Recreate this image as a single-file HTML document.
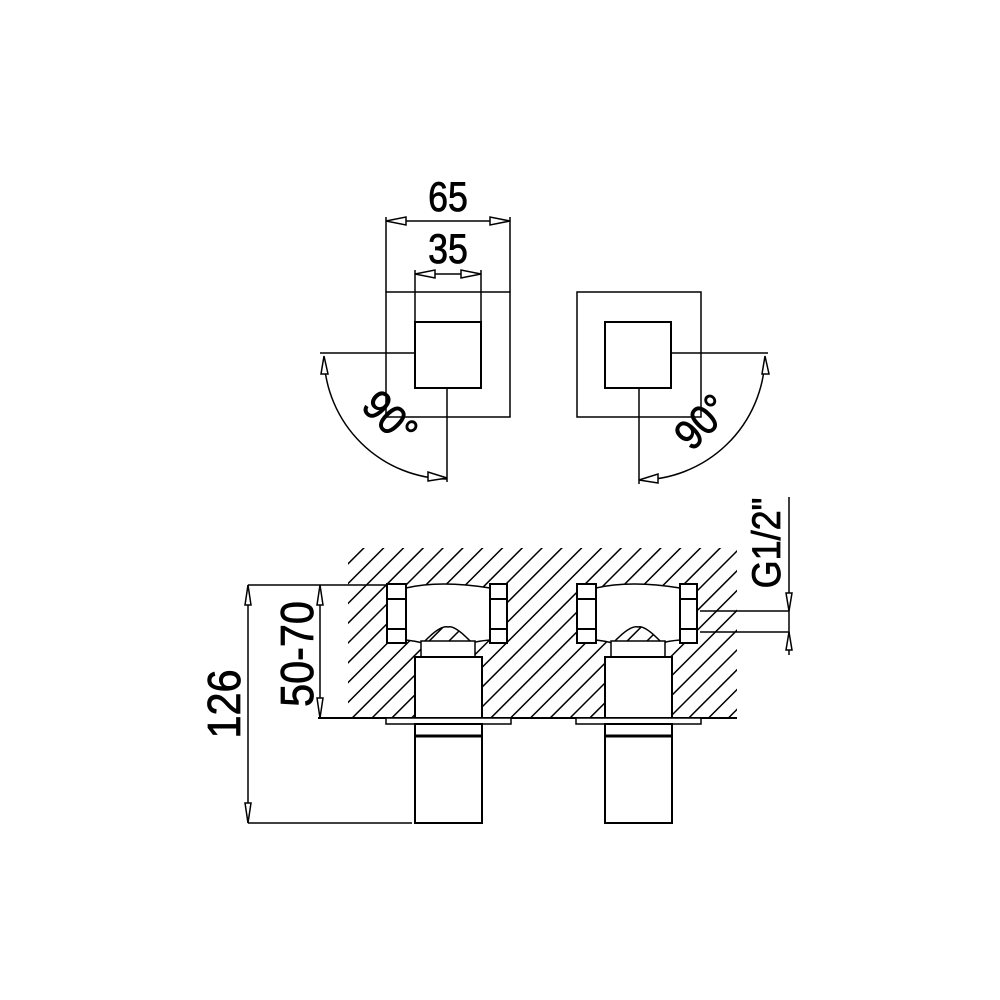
<!DOCTYPE html>
<html><head><style>body{margin:0;background:#fff}svg{display:block}text{font-family:"Liberation Sans Narrow","Liberation Sans",sans-serif;fill:#000;stroke:#000;stroke-width:0.8}</style></head><body>
<svg width="1000" height="1000" viewBox="0 0 1000 1000" xmlns="http://www.w3.org/2000/svg">
<defs>
<pattern id="hp" width="14" height="14" patternUnits="userSpaceOnUse" patternTransform="rotate(45)">
<line x1="0" y1="0" x2="0" y2="14" stroke="#000" stroke-width="3"/>
</pattern>
<g id="valve">
<path d="M406,588 Q440,580 490,588 L490,640 Q478,641 472,643 Q455,625 448,627 Q440,625 423,643 Q415,641 406,640 Z" fill="#fff" stroke="#000" stroke-width="1.5"/>
<rect x="421" y="641" width="54" height="17" fill="#fff" stroke="#000" stroke-width="1.5"/>
<rect x="387" y="584" width="19" height="59" fill="#fff" stroke="#000" stroke-width="2"/>
<line x1="387" y1="599" x2="406" y2="599" stroke="#000" stroke-width="2"/>
<line x1="387" y1="629" x2="406" y2="629" stroke="#000" stroke-width="2"/>
<rect x="490" y="584" width="17" height="59" fill="#fff" stroke="#000" stroke-width="2"/>
<line x1="490" y1="599" x2="507" y2="599" stroke="#000" stroke-width="2"/>
<line x1="490" y1="629" x2="507" y2="629" stroke="#000" stroke-width="2"/>
<rect x="415" y="657" width="67" height="61" fill="#fff" stroke="#000" stroke-width="2"/>
<rect x="386" y="718" width="125" height="6" fill="#fff" stroke="#000" stroke-width="1.5"/>
<rect x="415" y="724" width="67" height="99" fill="#fff" stroke="#000" stroke-width="2"/>
<line x1="415" y1="736" x2="482" y2="736" stroke="#000" stroke-width="3"/>
</g>
</defs>
<rect x="348" y="548" width="389" height="170" fill="url(#hp)"/>
<line x1="318" y1="718" x2="737" y2="718" stroke="#000" stroke-width="2"/>
<use href="#valve"/>
<use href="#valve" transform="translate(190,0)"/>
<g stroke="#000" stroke-width="1.5" fill="none">
<line x1="248" y1="585" x2="386" y2="585"/>
<line x1="248" y1="823" x2="412" y2="823"/>
<line x1="248" y1="585" x2="248" y2="823"/>
<path d="M248,585 l-3,20 h6 Z M248,823 l-3,-20 h6 Z" fill="#fff"/>
<line x1="320" y1="585" x2="320" y2="718"/>
<path d="M320,585 l-3,20 h6 Z M320,718 l-3,-20 h6 Z" fill="#fff"/>
<line x1="700" y1="611" x2="789" y2="611"/>
<line x1="700" y1="632" x2="789" y2="632"/>
<line x1="789" y1="497" x2="789" y2="655"/>
<path d="M789,611 l-3,-18 h6 Z M789,632 l-3,18 h6 Z" fill="#fff"/>
<rect x="386" y="292" width="124" height="125"/>
<rect x="415" y="322" width="66" height="66" stroke-width="2"/>
<line x1="415" y1="270" x2="415" y2="322"/>
<line x1="481" y1="270" x2="481" y2="322"/>
<line x1="386" y1="217" x2="386" y2="292"/>
<line x1="510" y1="217" x2="510" y2="292"/>
<line x1="386" y1="221" x2="510" y2="221"/>
<path d="M386,221 l20,-4 v8 Z M510,221 l-20,-4 v8 Z" fill="#fff"/>
<line x1="415" y1="274" x2="481" y2="274"/>
<path d="M415,274 l20,-4 v8 Z M481,274 l-20,-4 v8 Z" fill="#fff"/>
<line x1="320" y1="353" x2="415" y2="353"/>
<line x1="447" y1="388" x2="447" y2="482"/>
<path d="M324,358 A125,125 0 0 0 447,479"/>
<path d="M324,356 l-3,18 h7 Z" fill="#fff"/>
<path d="M447,478 l-19,-6 v9 Z" fill="#fff"/>
<rect x="577" y="292" width="124" height="125"/>
<rect x="605" y="322" width="66" height="66" stroke-width="2"/>
<line x1="671" y1="353" x2="768" y2="353"/>
<line x1="639" y1="388" x2="639" y2="484"/>
<path d="M765,358 A126,126 0 0 1 639,480"/>
<path d="M765,356 l-3,18 h7 Z" fill="#fff"/>
<path d="M639,480 l19,-6 v9 Z" fill="#fff"/>
</g>
<text font-size="42" text-anchor="middle" transform="translate(448,211) scale(0.85,1)">65</text>
<text font-size="42" text-anchor="middle" transform="translate(448,263) scale(0.85,1)">35</text>
<text font-size="42" text-anchor="middle" transform="translate(380,428) rotate(45) scale(0.9,1)">90°</text>
<text font-size="42" text-anchor="middle" transform="translate(712,432) rotate(-45) scale(0.9,1)">90°</text>
<text font-size="46" text-anchor="middle" transform="translate(240,704) rotate(-90) scale(0.9,1)">126</text>
<text font-size="46" text-anchor="middle" transform="translate(313,654) rotate(-90) scale(0.9,1)">50-70</text>
<text font-size="40" text-anchor="middle" transform="translate(780,543) rotate(-90) scale(0.9,1)">G1/2"</text>
</svg>
</body></html>
